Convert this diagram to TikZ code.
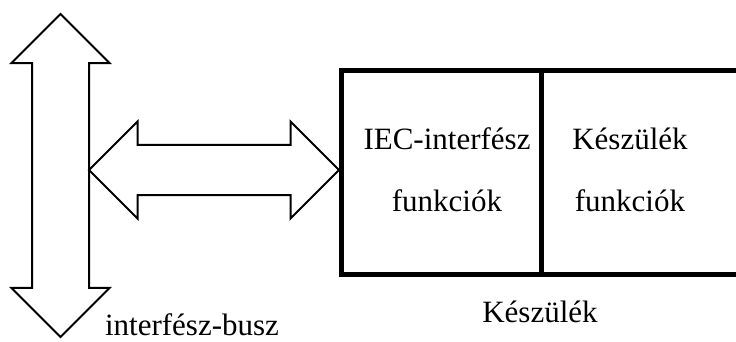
\documentclass[tikz,border=0pt]{standalone}
\usepackage{fontspec}
\setmainfont{Liberation Serif}
\usetikzlibrary{shapes.arrows, positioning}

\begin{document}
\begin{tikzpicture}[x=1pt, y=-1pt, line width=2pt, inner sep=0pt, outer sep=0pt,
    font=\fontsize{31}{62}\selectfont,
    darrow/.style={double arrow, draw, double arrow tip angle=90},
    cell/.style={rectangle, draw, line width=5pt, minimum height=203}]

        \useasboundingbox (0,0) rectangle (736,342);
        \clip (0,0) rectangle (736,342);

        \node[darrow, minimum height=323, inner ysep=27.5, double arrow head extend=20.5, rotate=90] (bus) at (60.5,175.5) {};
        \node[darrow, minimum height=250, inner ysep=24, double arrow head extend=23.5] (link) at (214,170) {};

        \node[cell, minimum width=200] (iec) at (441,172.5) {};
        \node[cell, minimum width=200, right=0pt of iec] (dev) {};

        \node[align=center] (iect) at (447,169.5) {IEC-interfész\\funkciók};
        \node[align=center] (devt) at (630,169.5) {Készülék\\funkciók};

        \node[anchor=base] (busl) at (192,335) {interfész-busz};
        \node[anchor=base] (devl) at (540,322) {Készülék};

    \end{tikzpicture}
\end{document}
